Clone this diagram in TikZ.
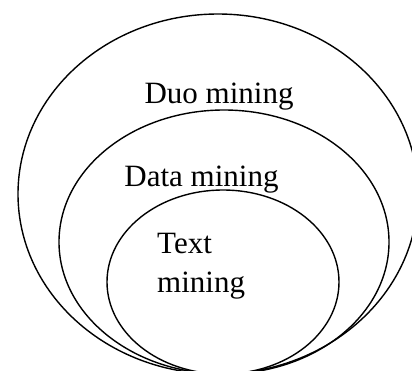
\documentclass[tikz,border=0pt]{standalone}
\usepackage{fontspec}
\setmainfont{Liberation Serif}
\begin{document}
\begin{tikzpicture}[x=1pt,y=-1pt,
  ring/.style={draw=black,line width=1.4pt},
  lbl/.style={inner sep=0pt,font=\fontsize{31}{37}\selectfont}]
\useasboundingbox (0,0) rectangle (412,370);
\clip (0,0) rectangle (412,370);
\draw[ring] (218,194) ellipse [x radius=200,y radius=180];
\draw[ring] (224,242) ellipse [x radius=165,y radius=132];
\draw[ring] (223,282) ellipse [x radius=116,y radius=92];
\node[lbl,anchor=base] (duo) at (219,103) {Duo mining};
\node[lbl,anchor=base] (data) at (201.5,186) {Data mining};
\node[lbl,anchor=base west] (text1) at (157,253) {Text};
\node[lbl,anchor=base west] (text2) at (157,292) {mining};
\end{tikzpicture}
\end{document}
